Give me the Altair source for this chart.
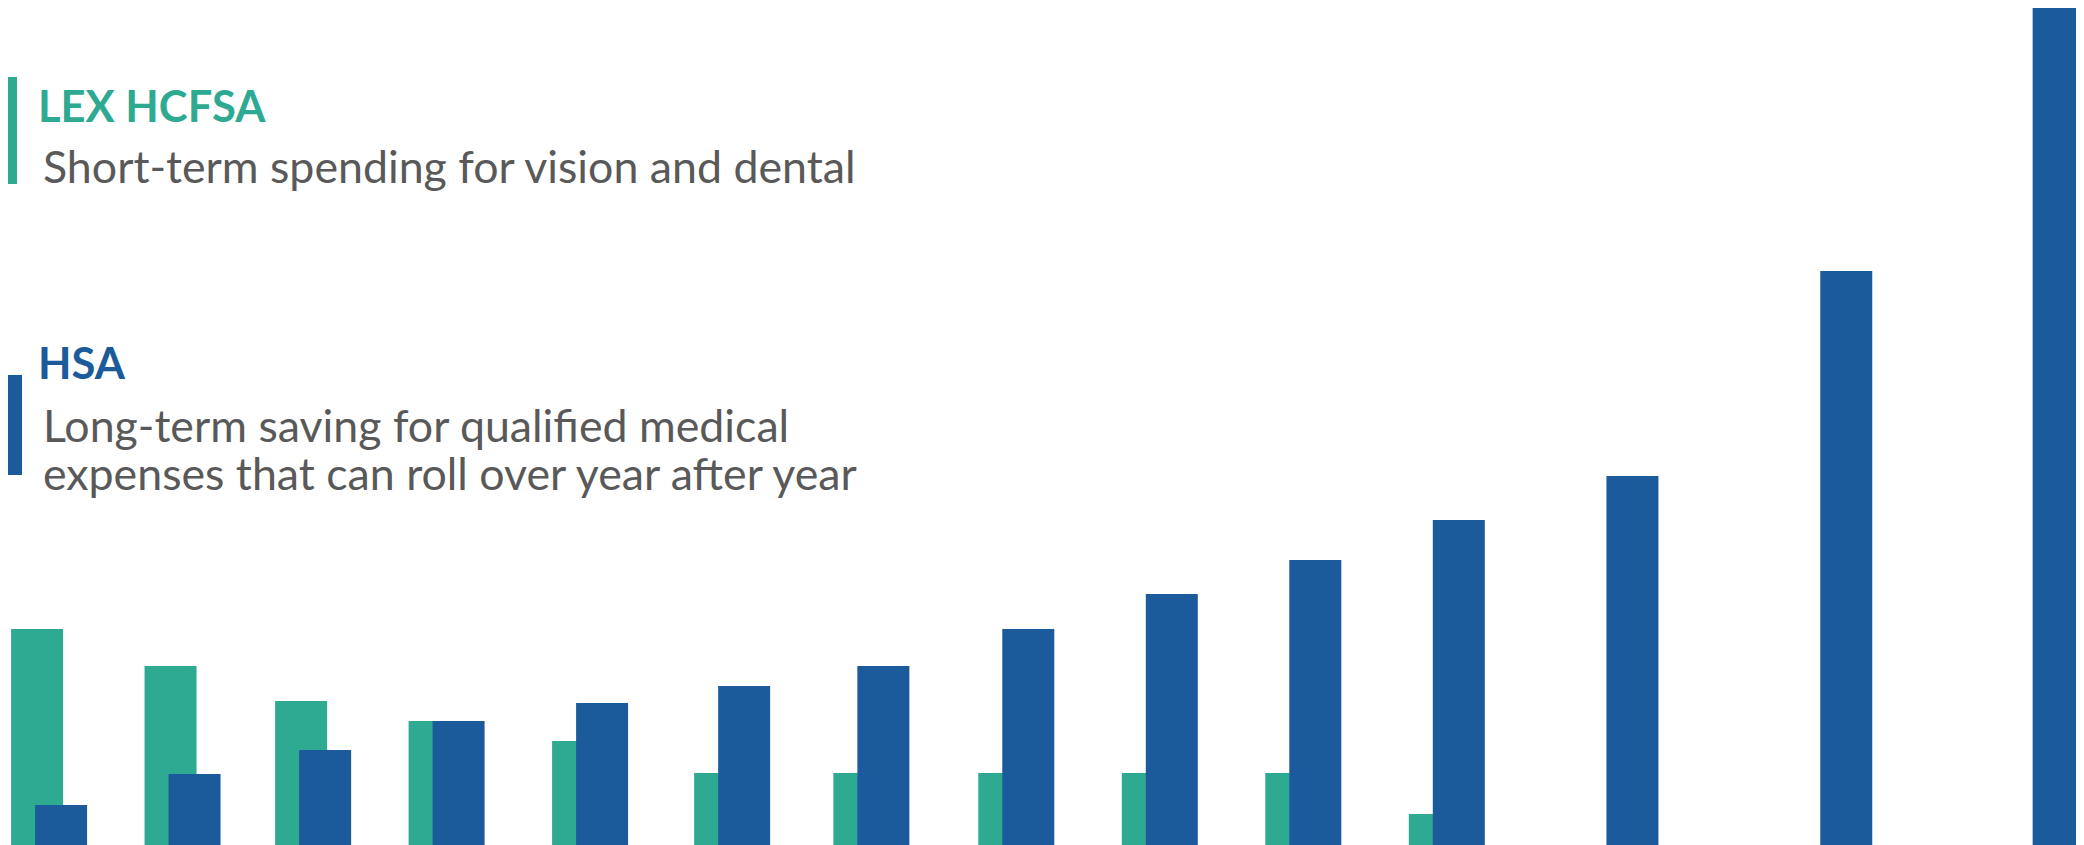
import altair as alt
import pandas as pd

# ---- data (arbitrary units, no axis shown) ----
periods = list(range(1, 15))
slot_position = [0.37, 1.30, 2.21, 3.14, 4.14, 5.13, 6.10, 7.11, 8.11, 9.11, 10.11, 11.32, 12.81, 14.29]
fsa_values = [216, 179, 144, 124, 104, 72, 72, 72, 72, 72, 31, 0, 0, 0]
hsa_values = [40, 71, 95, 124, 142, 159, 179, 216, 251, 285, 325, 369, 574, 837]

series_names = ["LEX HCFSA", "HSA"]
fsa_desc = ["Short-term spending for vision and dental"]
hsa_desc = ["Long-term saving for qualified medical",
            "expenses that can roll over year after year"]

TEAL = "#2DAA91"
BLUE = "#1B5A9B"
GRAY = "#595959"
FONT = "Lato"

W, H = 2068, 837

df = pd.DataFrame({"period": periods, "slot": slot_position,
                   "fsa": fsa_values, "hsa": hsa_values})

xenc = alt.X("slot:Q", scale=alt.Scale(domain=[0, 14.411], nice=False, zero=False, padding=0),
             axis=None)
yscale = alt.Scale(domain=[0, 837], nice=False, padding=0)

base = alt.Chart(df)

teal_bars = base.transform_filter(alt.datum.fsa > 0).mark_bar(
    width=52, color=TEAL, xOffset=-24
).encode(x=xenc, y=alt.Y("fsa:Q", scale=yscale, axis=None))

blue_bars = base.mark_bar(width=52, color=BLUE).encode(
    x=xenc, y=alt.Y("hsa:Q", scale=yscale, axis=None)
)

one = pd.DataFrame({"k": [0]})

teal_marker = alt.Chart(one).mark_rect(color=TEAL).encode(
    x=alt.value(0), x2=alt.value(9), y=alt.value(69), y2=alt.value(176)
)
blue_marker = alt.Chart(one).mark_rect(color=BLUE).encode(
    x=alt.value(0), x2=alt.value(14), y=alt.value(367), y2=alt.value(467)
)


def text_layer(lines, x, y, size, color, weight="normal"):
    return alt.Chart(pd.DataFrame({"t": ["\n".join(lines)]})).mark_text(
        align="left", baseline="alphabetic", font=FONT, fontSize=size,
        fontWeight=weight, color=color, lineBreak="\n", lineHeight=48
    ).encode(x=alt.value(x), y=alt.value(y), text="t:N")


texts = [
    text_layer([series_names[0]], 30, 114, 43.5, TEAL, "bold"),
    text_layer(fsa_desc, 35, 175, 44.7, GRAY),
    text_layer([series_names[1]], 30, 371, 43.5, BLUE, "bold"),
    text_layer(hsa_desc, 35, 434, 44.7, GRAY),
]

chart = alt.layer(teal_bars, blue_bars, teal_marker, blue_marker, *texts).properties(
    width=W, height=H, padding=0, autosize=alt.AutoSizeParams(type="none"),
    background="white"
).configure_view(stroke=None)

chart.save("out.html", embed_options={"renderer": "svg", "actions": False})
